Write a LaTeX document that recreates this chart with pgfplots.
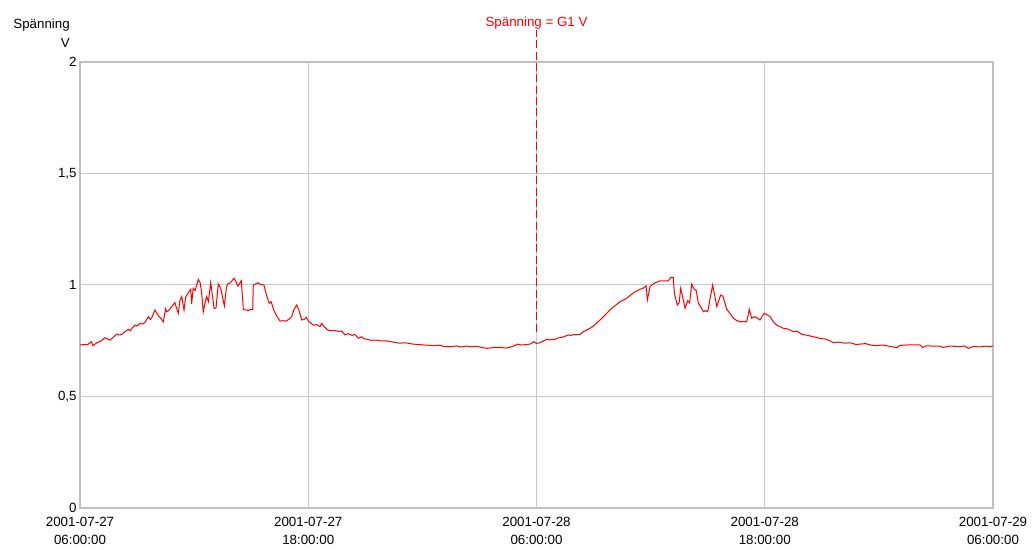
\documentclass[border=0pt]{standalone}
\usepackage{pgfplots}
\pgfplotsset{compat=1.18}
\usepackage{fontspec}
\setmainfont{Liberation Sans}
\definecolor{gridc}{RGB}{200,200,200}
\definecolor{framec}{RGB}{192,192,192}
\definecolor{curve}{RGB}{255,0,0}
\begin{document}
\begin{tikzpicture}
\path[use as bounding box] (-60pt,-31.5pt) rectangle (714.75pt,381pt);
\begin{axis}[
  at={(0,0)}, anchor=south west,
  scale only axis, width=684.75pt, height=334.5pt,
  xmin=0, xmax=48, ymin=0, ymax=2,
  xtick={0,12,24,36,48},
  xticklabels={{2001-07-27\\06:00:00},{2001-07-27\\18:00:00},{2001-07-28\\06:00:00},{2001-07-28\\18:00:00},{2001-07-29\\06:00:00}},
  ytick={0,0.5,1,1.5,2},
  yticklabels={0,{0,5},1,{1,5},2},
  xticklabel style={align=center, font=\fontsize{10}{13.5}\selectfont, yshift=-3.5pt},
  yticklabel style={font=\fontsize{10}{12}\selectfont, xshift=1pt},
  major tick length=0pt,
  grid=major,
  major grid style={gridc, line width=0.75pt},
  axis line style={framec, line width=1.5pt},
  clip=false,
]
\addplot[curve, line width=0.75pt] coordinates {
(0,0.731) (0.2,0.733) (0.4,0.732) (0.6,0.746) (0.68,0.728) (0.88,0.741) (1.0,0.745) (1.15,0.752)
(1.31,0.764) (1.45,0.758) (1.58,0.753) (1.75,0.766) (1.93,0.780) (2.05,0.776) (2.19,0.778)
(2.35,0.790) (2.54,0.801) (2.65,0.795) (2.75,0.808) (2.89,0.820) (3.0,0.816) (3.15,0.828)
(3.3,0.825) (3.42,0.833) (3.59,0.858) (3.7,0.845) (3.77,0.852) (3.85,0.870) (3.94,0.888)
(4.05,0.872) (4.15,0.860) (4.3,0.845) (4.38,0.835) (4.50,0.893) (4.56,0.880) (4.65,0.885)
(4.8,0.900) (4.99,0.921) (5.08,0.895) (5.17,0.873) (5.25,0.930) (5.35,0.948) (5.42,0.910)
(5.47,0.888) (5.55,0.945) (5.65,0.960) (5.82,0.981) (5.87,0.915) (5.95,0.985) (6.05,0.975)
(6.22,1.025) (6.32,1.010) (6.40,0.960) (6.48,0.880) (6.60,0.930) (6.66,0.948) (6.75,0.925)
(6.87,1.010) (6.95,0.960) (7.05,0.895) (7.15,0.897) (7.27,1.004) (7.4,0.985) (7.59,0.906)
(7.70,0.990) (7.77,1.005) (7.9,1.010) (8.1,1.030) (8.2,1.015) (8.3,0.995) (8.48,1.019)
(8.59,0.888) (8.75,0.888) (8.85,0.885) (8.94,0.890) (9.08,0.889) (9.11,1.0) (9.25,1.005)
(9.37,1.010) (9.5,1.002) (9.67,1.000) (9.82,0.950) (9.95,0.918) (10.05,0.925) (10.2,0.885)
(10.35,0.860) (10.52,0.838) (10.7,0.840) (10.85,0.838) (11.0,0.848) (11.13,0.858) (11.25,0.890)
(11.39,0.910) (11.5,0.890) (11.66,0.843) (11.8,0.846) (11.9,0.855) (12.0,0.838) (12.27,0.820)
(12.45,0.822) (12.62,0.813) (12.71,0.828) (12.85,0.812) (13.0,0.800) (13.14,0.795) (13.4,0.796)
(13.6,0.792) (13.76,0.794) (13.93,0.776) (14.1,0.782) (14.3,0.774) (14.45,0.778) (14.63,0.761)
(14.8,0.768) (14.95,0.758) (15.07,0.757) (15.3,0.752) (15.6,0.753) (15.8,0.749) (16.1,0.749)
(16.4,0.745) (16.8,0.739) (17.1,0.741) (17.5,0.735) (17.8,0.733) (18.1,0.731) (18.6,0.728)
(18.9,0.730) (19.1,0.725) (19.5,0.723) (19.8,0.727) (20.0,0.722) (20.3,0.726) (20.6,0.723)
(20.9,0.725) (21.1,0.720) (21.4,0.716) (21.7,0.719) (22.1,0.720) (22.4,0.717) (22.8,0.726)
(23.0,0.735) (23.2,0.731) (23.5,0.733) (23.7,0.736) (23.83,0.746) (24.0,0.738) (24.18,0.741)
(24.35,0.748) (24.54,0.756) (24.7,0.754) (24.97,0.756) (25.1,0.762) (25.33,0.765) (25.5,0.770)
(25.67,0.776) (25.8,0.774) (26.0,0.778) (26.29,0.778) (26.46,0.791) (26.6,0.796) (26.81,0.806)
(26.99,0.816) (27.34,0.843) (27.6,0.865) (27.86,0.888) (28.1,0.905) (28.39,0.925) (28.74,0.940)
(28.95,0.955) (29.18,0.970) (29.3,0.974) (29.44,0.981) (29.6,0.985) (29.76,0.996) (29.83,0.933)
(29.97,0.993) (30.1,1.002) (30.23,1.010) (30.49,1.018) (30.7,1.018) (30.93,1.019) (31.06,1.034)
(31.19,1.034) (31.25,0.963) (31.4,0.910) (31.5,0.920) (31.58,0.985) (31.7,0.940) (31.81,0.895)
(31.95,0.930) (32.05,0.920) (32.16,1.004) (32.3,0.980) (32.4,0.975) (32.51,0.918) (32.65,0.900)
(32.77,0.880) (32.9,0.885) (33.0,0.880) (33.26,1.000) (33.4,0.940) (33.48,0.903) (33.68,0.955)
(33.8,0.950) (34.0,0.891) (34.15,0.875) (34.35,0.851) (34.5,0.842) (34.7,0.835) (34.9,0.836)
(35.05,0.835) (35.19,0.891) (35.31,0.851) (35.49,0.858) (35.6,0.852) (35.75,0.843) (35.96,0.873)
(36.1,0.868) (36.28,0.858) (36.45,0.835) (36.63,0.820) (36.8,0.813) (36.98,0.806) (37.2,0.803)
(37.5,0.791) (37.7,0.793) (37.94,0.779) (38.2,0.775) (38.55,0.768) (38.9,0.761) (39.2,0.757)
(39.43,0.750) (39.6,0.741) (39.9,0.744) (40.2,0.739) (40.5,0.741) (40.8,0.733) (41.0,0.735)
(41.3,0.737) (41.6,0.730) (41.9,0.728) (42.2,0.731) (42.5,0.726) (42.94,0.719) (43.1,0.729)
(43.5,0.731) (43.8,0.731) (44.16,0.731) (44.3,0.720) (44.5,0.727) (44.9,0.726) (45.2,0.726)
(45.39,0.720) (45.7,0.726) (46.0,0.725) (46.27,0.723) (46.5,0.727) (46.7,0.716) (47.0,0.725)
(47.3,0.722) (47.6,0.726) (47.84,0.723) (48.0,0.727)
};
\draw[curve, dashed, dash pattern=on 6pt off 2.5pt, line width=0.75pt] (axis cs:24,0.79) -- (axis cs:24,2.143);
\node[text=curve, font=\fontsize{10}{12}\selectfont] at (axis cs:24,2.175) {Spänning = G1 V};
\end{axis}
\node[align=right, anchor=east, font=\fontsize{10}{14}\selectfont, inner sep=0pt] at (-7.5pt,356pt) {Spänning\\V};
\end{tikzpicture}
\end{document}
